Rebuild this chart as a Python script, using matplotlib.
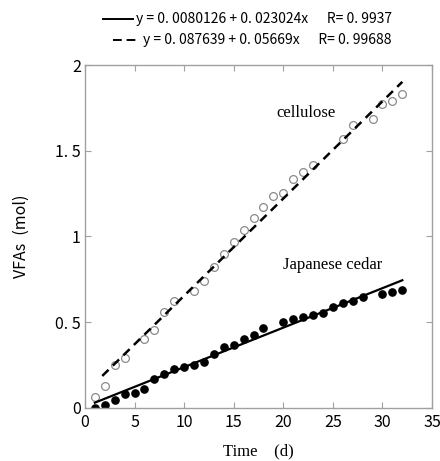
import numpy as np
import matplotlib.pyplot as plt
from matplotlib.lines import Line2D

# data
cedar_day = [1, 2, 3, 4, 5, 6, 7, 8, 9, 10, 11, 12, 13, 14, 15, 16, 17, 18,
             20, 21, 22, 23, 24, 25, 26, 27, 28, 30, 31, 32]
cedar_vfa = [0.00, 0.02, 0.047, 0.08, 0.09, 0.11, 0.17, 0.20, 0.225, 0.24, 0.25, 0.27,
             0.315, 0.355, 0.37, 0.40, 0.425, 0.465,
             0.50, 0.52, 0.53, 0.54, 0.555, 0.59, 0.61, 0.625, 0.645, 0.665, 0.675, 0.69]
cell_day = [1, 2, 3, 4, 6, 7, 8, 9, 11, 12, 13, 14, 15, 16, 17, 18, 19, 20,
            21, 22, 23, 26, 27, 29, 30, 31, 32]
cell_vfa = [0.066, 0.13, 0.25, 0.29, 0.40, 0.455, 0.56, 0.625, 0.685, 0.74, 0.82, 0.90,
            0.97, 1.037, 1.11, 1.17, 1.235, 1.255, 1.333, 1.376, 1.417, 1.567, 1.65,
            1.684, 1.77, 1.79, 1.83]

cedar_fit = (0.0080126, 0.023024)
cell_fit = (0.087639, 0.05669)
cedar_range = (1, 32)
cell_range = (1.75, 32)

x_ticks = [0, 5, 10, 15, 20, 25, 30, 35]
y_ticks = [0, 0.5, 1, 1.5, 2]
y_ticklabels = ['0', '0. 5', '1', '1. 5', '2']

jp = ['Noto Sans CJK JP', 'DejaVu Sans']
serif = ['Liberation Serif', 'Noto Sans CJK JP']
grey = '#a0a0a0'

fig = plt.figure(figsize=(4.4, 4.61), dpi=100)
ax = fig.add_axes([0.193, 0.115, 0.789, 0.744])

# fitted lines
xs = np.array(cedar_range)
ax.plot(xs, cedar_fit[0] + cedar_fit[1] * xs, color='black', lw=1.6, zorder=3)
xs = np.array(cell_range)
ax.plot(xs, cell_fit[0] + cell_fit[1] * xs, color='black', lw=1.8,
        dashes=(3.5, 2.4), zorder=3)

# points
ax.plot(cedar_day, cedar_vfa, 'o', ms=5.2, mfc='black', mec='black', zorder=2)
ax.plot(cell_day, cell_vfa, 'o', ms=5.6, mfc='none', mec='#8a8a8a', mew=0.9, zorder=2)

ax.text(22.3, 1.72, 'cellulose', family=serif, fontsize=12, ha='center', va='center')
ax.text(25.0, 0.835, 'Japanese cedar', family=serif, fontsize=12, ha='center', va='center')

ax.set_xlim(0, 35)
ax.set_ylim(0, 2)
ax.set_xticks(x_ticks)
ax.set_yticks(y_ticks)
ax.set_yticklabels(y_ticklabels)
for lab in ax.get_xticklabels() + ax.get_yticklabels():
    lab.set_family(jp)
    lab.set_fontsize(11.5)
ax.tick_params(direction='in', length=4, width=0.8, color=grey,
               top=True, right=True)
ax.tick_params(axis='x', pad=4)
ax.tick_params(axis='y', pad=3)
for s in ax.spines.values():
    s.set_color(grey)
    s.set_linewidth(1.0)

ax.set_xlabel('Time\u3000(d)', family=serif, fontsize=12, labelpad=9)
ax.set_ylabel('VFAs\u2002(mol)', family=jp, fontsize=11.5, labelpad=18)

# equation key at the top
W, H = 440.0, 461.0
rows = [
    (103, 133, '-', 'y = 0. 0080126 + 0. 023024x      R= 0. 9937', 19),
    (113, 140, '--', 'y = 0. 087639 + 0. 05669x      R= 0. 99688', 40),
]
for x0, x1, ls, txt, yy in rows:
    ln = Line2D([x0 / W, x1 / W], [1 - yy / H, 1 - yy / H], color='black',
                lw=1.4, transform=fig.transFigure)
    if ls == '--':
        ln.set_dashes((4.5, 2.5))
    fig.add_artist(ln)
    fig.text((x1 + 3) / W, 1 - yy / H, txt, family=jp, fontsize=10,
             ha='left', va='center')

fig.savefig('out.png', dpi=100)
